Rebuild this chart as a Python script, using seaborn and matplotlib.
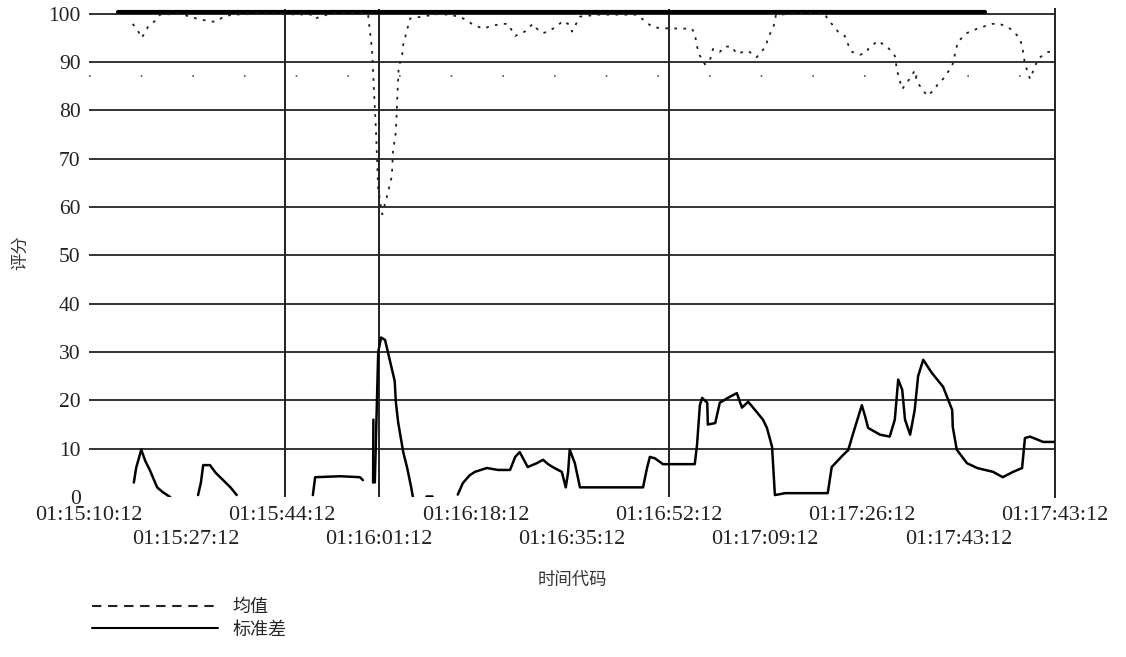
import numpy as np
import pandas as pd
import seaborn as sns
import matplotlib.pyplot as plt
from matplotlib.lines import Line2D

# time axis in seconds from 01:15:10:12, one tick every 17 s
tick_labels = ['01:15:10:12', '01:15:27:12', '01:15:44:12', '01:16:01:12',
               '01:16:18:12', '01:16:35:12', '01:16:52:12', '01:17:09:12',
               '01:17:26:12', '01:17:43:12', '01:17:43:12']
tick_pos = [0, 17, 34, 51, 68, 85, 102, 119, 136, 153, 170]
marked_ticks = [34.5, 51, 102]
y_ticks = [0, 10, 20, 30, 40, 50, 60, 70, 80, 90, 100]

# 均值 (mean)
mean_t = [7.7, 8.6, 9.3, 10.4, 11.6, 12.5, 16.0, 19.5, 22.2, 23.9, 25.3, 30.1,
          39.4, 39.8, 42.4, 49.1, 49.8, 50.0, 50.1, 50.5, 50.9, 51.6, 52.4,
          53.3, 53.5, 54.0, 54.4, 54.5, 55.1, 55.3, 56.5, 61.8, 65.3, 67.4,
          69.3, 70.9, 72.7, 73.7, 75.0, 76.7, 78.1, 78.8, 79.9, 80.8, 82.2,
          83.4, 84.3, 85.0, 86.4, 89.6, 96.4, 99.1, 100.5, 105.2, 106.1, 106.6,
          107.0, 107.5, 108.4, 109.3, 109.8, 111.0, 111.9, 113.1, 114.0, 115.1,
          116.0, 117.5, 119.1, 119.5, 120.5, 120.9, 125.1, 129.5, 130.0, 130.7,
          131.8, 133.0, 133.9, 134.3, 135.7, 136.9, 137.1, 138.8, 140.6, 141.8,
          142.2, 143.1, 144.1, 145.3, 145.7, 147.5, 148.5, 149.7, 150.3, 151.9,
          152.4, 152.9, 154.5, 156.3, 158.9, 160.3, 162.1, 163.8, 164.3, 164.7,
          165.6, 167.0, 168.8, 170.0]
mean_v = [97.9, 96.5, 95.0, 97.3, 98.5, 99.8, 100, 98.8, 98.3, 99.5, 99.8, 100,
          99.8, 99.0, 100, 100, 92.7, 88.0, 85.3, 76.0, 63.7, 58.5, 62.0,
          66.4, 71.4, 75.5, 86.5, 89.0, 91.3, 93.6, 99.0, 100, 99.4, 97.9,
          96.9, 97.5, 97.9, 97.9, 95.4, 96.3, 97.9, 96.9, 96.0, 96.3, 97.3,
          98.5, 97.9, 96.3, 99.4, 99.8, 99.8, 97.3, 97.0, 96.9, 96.9, 95.9,
          93.2, 91.3, 89.5, 90.5, 92.7, 92.1, 93.2, 93.2, 91.7, 92.1,
          92.3, 91.0, 93.2, 95.0, 97.5, 99.8, 100, 100, 98.8, 97.9,
          96.3, 95.4, 92.7, 92.1, 91.5, 92.1, 92.7, 94.4, 93.0, 91.3,
          88.2, 84.4, 86.0, 88.2, 85.9, 83.0, 84.0, 85.9, 86.5, 89.2,
          91.7, 94.2, 96.0, 96.9, 97.9, 97.9, 96.9, 95.0, 92.7, 89.6,
          86.5, 90.7, 92.1, 92.1]

# 标准差 (std), NaN = gap in the trace
std_t = [7.9, 8.3, 9.2, 9.9, 10.7, 12.0, 13.0, 14.3, 14.4,
         19.2, 19.7, 20.1, 21.3, 22.3, 23.6, 24.9, 26.0, 26.1,
         39.4, 39.8, 44.2, 47.7, 48.2, 48.3,
         50.0, 50.05, 50.1,
         50.3, 50.9, 51.4, 52.1, 52.6, 53.8, 54.0, 54.4, 55.3, 56.0, 56.7, 57.0, 57.1,
         59.3, 60.4, 60.5,
         64.9, 65.8, 67.0, 67.9, 70.0, 72.0, 74.1, 75.0, 75.8, 77.2, 78.8, 79.9,
         80.8, 81.6, 83.2, 83.9, 84.3, 84.6, 85.5, 86.4, 90.0, 93.4, 97.5, 98.2,
         98.7, 99.6, 101.0, 104.0, 106.6, 107.0, 107.5, 107.9, 108.8, 108.9,
         110.2, 111.0, 112.4, 114.0, 114.9, 116.0, 117.5, 118.6, 119.3, 120.2,
         120.7, 122.5, 126.0, 130.0, 130.7, 132.7, 133.6, 134.3, 136.0, 136.6,
         137.1, 139.2, 140.9, 141.8, 142.4, 143.1, 143.6, 144.5, 145.3, 145.9,
         146.8, 148.3, 150.3, 151.9, 152.0, 152.7, 154.5, 156.3, 159.1, 160.8,
         162.6, 164.2, 164.7, 165.6, 167.9, 170.0]
std_v = [3.0, 6.0, 9.8, 7.5, 5.6, 2.0, 1.0, 0.0, np.nan,
         0.4, 3.0, 6.6, 6.6, 5.0, 3.5, 2.0, 0.4, np.nan,
         0.4, 4.1, 4.3, 4.1, 3.5, np.nan,
         3.0, 16.0, np.nan,
         3.0, 30.0, 33.0, 32.5, 30.0, 24.0, 19.7, 15.5, 9.3, 6.0, 2.0, 0.0, np.nan,
         0.3, 0.3, np.nan,
         0.5, 2.9, 4.5, 5.2, 6.0, 5.6, 5.6, 8.3, 9.3, 6.2, 7.0, 7.7,
         6.8, 6.2, 5.2, 2.0, 5.0, 9.8, 7.0, 2.0, 2.0, 2.0, 2.0, 6.0,
         8.3, 8.0, 6.8, 6.8, 6.8, 10.8, 19.0, 20.5, 19.5, 15.0,
         15.3, 19.5, 20.5, 21.5, 18.5, 19.7, 17.6, 16.0, 14.3, 10.4,
         0.4, 0.8, 0.8, 0.8, 6.2, 8.7, 9.7, 12.5, 19.0, 16.6,
         14.3, 12.9, 12.5, 16.0, 24.3, 22.2, 16.0, 12.9, 18.0, 25.0,
         28.4, 25.7, 22.8, 18.0, 14.5, 9.8, 7.0, 6.0, 5.2, 4.1,
         5.2, 6.0, 12.2, 12.5, 11.4, 11.4]

mean_df = pd.DataFrame({'t': mean_t, 'v': mean_v})
std_df = pd.DataFrame({'t': std_t, 'v': std_v})
std_df['seg'] = std_df['v'].isna().cumsum()
std_df = std_df.dropna()

sns.set_style('white')
plt.rcParams['font.family'] = ['Liberation Serif', 'Noto Sans CJK SC', 'DejaVu Sans']

fig = plt.figure(figsize=(11.26, 6.57), dpi=100)
ax = fig.add_axes([0.079, 0.2435, 0.858, 0.743])

for y in y_ticks[1:]:
    ax.axhline(y, color='#333333', lw=1.4, zorder=1)
for x in marked_ticks:
    ax.axvline(x, color='#222222', lw=1.4, zorder=1)
# heavy band along the top
ax.axhline(100.3, xmin=0.03, xmax=0.9275, color='black', lw=3, zorder=3)
# faint dotted reference at ~87
ax.axhline(87.1, color='#555555', lw=1.2, ls=(0, (1, 30)), zorder=1)

sns.lineplot(data=mean_df, x='t', y='v', color='#222222', lw=1.3,
             linestyle=(0, (1.5, 3.5)), ax=ax, zorder=4)
sns.lineplot(data=std_df, x='t', y='v', units='seg', estimator=None,
             color='black', lw=1.8, ax=ax, zorder=4)

ax.set_xlim(0, 170)
ax.set_ylim(0, 101)
ax.set_yticks(y_ticks)
# two staggered rows of time codes: even ones on top, odd ones below
ax.set_xticks(tick_pos[::2])
ax.set_xticklabels(tick_labels[::2])
ax.set_xticks(tick_pos[1::2], minor=True)
ax.set_xticklabels(tick_labels[1::2], minor=True)
ax.tick_params(axis='x', which='both', length=0, labelsize=16, colors='#222222')
ax.tick_params(axis='x', which='major', pad=6.5)
ax.tick_params(axis='x', which='minor', pad=24)
ax.tick_params(axis='y', length=0, labelsize=15.5, colors='#222222', pad=6)

for side in ['top', 'left', 'bottom']:
    ax.spines[side].set_visible(False)
ax.spines['right'].set_color('#222222')
ax.spines['right'].set_linewidth(1.4)

ax.set_xlabel('时间代码', fontsize=12.5, labelpad=17, color='#333333')
ax.set_ylabel('评分', fontsize=12.5, labelpad=14, color='#333333')

handles = [Line2D([], [], color='#222222', lw=1.5, ls=(0, (4.5, 3.2))),
           Line2D([], [], color='black', lw=1.5)]
fig.legend(handles, ['均值', '标准差'], loc='upper left',
           bbox_to_anchor=(0.0817, 0.088), frameon=False, fontsize=13,
           handlelength=7.0, handletextpad=0.8, labelspacing=0.3,
           borderpad=0, borderaxespad=0)

fig.savefig('out.png', dpi=100)
